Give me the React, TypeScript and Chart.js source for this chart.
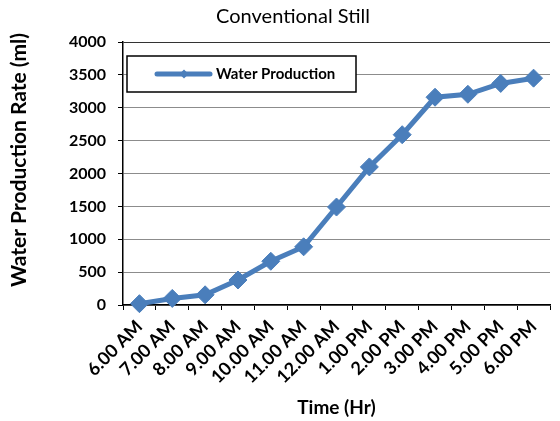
import React, { useEffect, useRef } from "react";
import { Chart, registerables } from "chart.js";

Chart.register(...registerables);

const categories = [
  "6.00 AM", "7.00 AM", "8.00 AM", "9.00 AM", "10.00 AM", "11.00 AM", "12.00 AM",
  "1.00 PM", "2.00 PM", "3.00 PM", "4.00 PM", "5.00 PM", "6.00 PM",
];
const waterProduction = [20, 100, 155, 380, 665, 885, 1490, 2100, 2590, 3160, 3205, 3370, 3450];
const yMin = 0;
const yMax = 4000;
const yStep = 500;

const seriesLabel = "Water Production";
const chartTitle = "Conventional Still";
const xTitle = "Time (Hr)";
const yTitle = "Water Production Rate (ml)";

const FONT = "Lato, 'Open Sans', 'Liberation Sans', sans-serif";
const BLUE = "#4A7EBB";
const W = 560;
const H = 421;

const titlePlugin = {
  id: "topTitle",
  afterDraw(chart: any) {
    const ctx = chart.ctx;
    ctx.save();
    ctx.font = `20px ${FONT}`;
    ctx.fillStyle = "#000";
    ctx.textAlign = "center";
    ctx.textBaseline = "middle";
    ctx.fillText(chartTitle, 293, 17);
    // y-axis title
    ctx.translate(19, 160);
    ctx.rotate(-Math.PI / 2);
    ctx.font = `bold 21px ${FONT}`;
    ctx.fillText(yTitle, 0, 0);
    ctx.restore();
  },
};

const legendPlugin = {
  id: "insideLegend",
  afterDraw(chart: any) {
    const ctx = chart.ctx;
    const a = chart.chartArea;
    const x = a.left + 4;
    const y = a.top + 14;
    const w = 229;
    const h = 36;
    ctx.save();
    ctx.fillStyle = "#fff";
    ctx.fillRect(x, y, w, h);
    ctx.strokeStyle = "#000";
    ctx.lineWidth = 1.5;
    ctx.strokeRect(x, y, w, h);
    const cy = y + h / 2;
    ctx.strokeStyle = BLUE;
    ctx.lineWidth = 5;
    ctx.lineCap = "round";
    ctx.beginPath();
    ctx.moveTo(x + 30, cy);
    ctx.lineTo(x + 83, cy);
    ctx.stroke();
    const mx = x + 57;
    const r = 4.5;
    ctx.fillStyle = BLUE;
    ctx.beginPath();
    ctx.moveTo(mx, cy - r);
    ctx.lineTo(mx + r, cy);
    ctx.lineTo(mx, cy + r);
    ctx.lineTo(mx - r, cy);
    ctx.closePath();
    ctx.fill();
    ctx.fillStyle = "#000";
    ctx.font = `bold 15px ${FONT}`;
    ctx.textAlign = "left";
    ctx.textBaseline = "middle";
    ctx.fillText(chart.data.datasets[0].label, x + 89, cy);
    ctx.restore();
  },
};

export default function App() {
  const ref = useRef<HTMLCanvasElement | null>(null);

  useEffect(() => {
    if (!ref.current) return;
    const yTickValues: number[] = [];
    for (let v = yMin; v <= yMax; v += yStep) yTickValues.push(v);

    const chart = new Chart(ref.current, {
      type: "line",
      data: {
        labels: categories,
        datasets: [
          {
            label: seriesLabel,
            data: waterProduction,
            borderColor: BLUE,
            backgroundColor: BLUE,
            borderWidth: 5,
            pointStyle: "rectRot",
            pointRadius: 9,
            pointHoverRadius: 9,
            pointBackgroundColor: BLUE,
            pointBorderColor: BLUE,
            pointBorderWidth: 1,
            tension: 0,
            clip: false as any,
          },
        ],
      },
      plugins: [titlePlugin, legendPlugin],
      options: {
        responsive: false,
        animation: false,
        devicePixelRatio: 1,
        layout: { padding: { left: 0, top: 42, right: 2, bottom: 0 } },
        plugins: {
          legend: { display: false },
          title: { display: false },
          tooltip: { enabled: false },
        },
        scales: {
          x: {
            type: "category",
            offset: true,
            afterFit: (s: any) => {
              s.height = H - 305;
            },
            grid: {
              offset: true,
              drawOnChartArea: false,
              drawTicks: true,
              tickLength: 5,
              tickColor: "#000",
              color: "#000",
            },
            border: { color: "#000", width: 1.5 },
            ticks: {
              autoSkip: false,
              maxRotation: 45,
              minRotation: 45,
              color: "#000",
              font: { family: FONT, size: 18, weight: "bold" },
              padding: 6,
            },
            title: {
              display: true,
              text: xTitle,
              color: "#000",
              font: { family: FONT, size: 19, weight: "bold" },
              padding: { top: 0, bottom: 2 },
            },
          },
          y: {
            min: yMin,
            max: yMax,
            afterFit: (s: any) => {
              s.width = 123;
            },
            afterBuildTicks: (s: any) => {
              s.ticks = yTickValues.map((v) => ({ value: v }));
            },
            grid: {
              color: (c: any) => (c.tick && c.tick.value === yMax ? "#333" : "#8c8c8c"),
              lineWidth: 1,
              tickLength: 5,
              tickColor: "#000",
            },
            border: { color: "#000", width: 1.5 },
            ticks: {
              color: "#000",
              font: { family: FONT, size: 16, weight: "bold" },
              padding: 12,
              callback: (v: any) => String(v),
            },
            title: { display: false },
          },
        },
      },
    });
    return () => chart.destroy();
  }, []);

  return (
    <div style={{ position: "absolute", left: 0, top: 0, width: W, height: H, background: "#fff" }}>
      <canvas ref={ref} width={W} height={H} style={{ display: "block", width: W, height: H }} />
    </div>
  );
}
